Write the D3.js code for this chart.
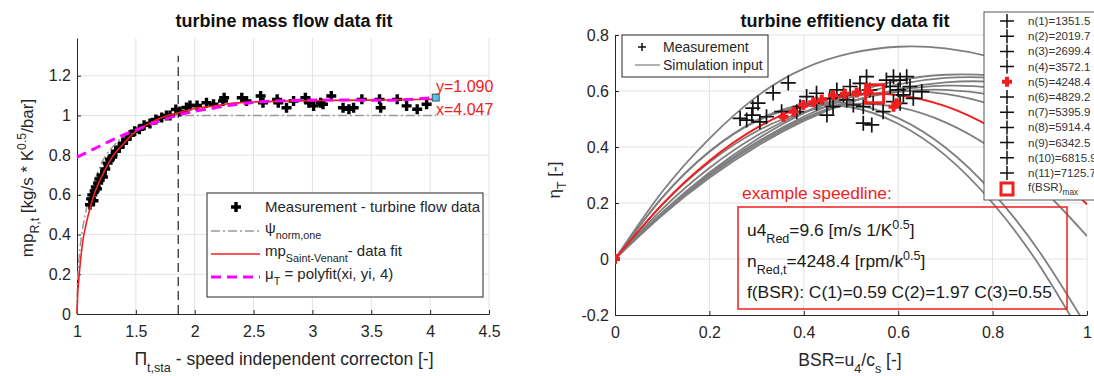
<!DOCTYPE html>
<html>
<head>
<meta charset="utf-8">
<script src="https://cdn.jsdelivr.net/npm/d3@7"></script>
<style>
  body { margin: 0; background: #fff; }
  svg { font-family: "Liberation Sans", Arial, sans-serif; }
</style>
</head>
<body>
<div class="canvas"></div>
<script>
// ---------- left chart data: turbine mass flow ----------
const mfTicksX = [1, 1.5, 2, 2.5, 3, 3.5, 4, 4.5];
const mfTickLabelsX = ['1', '1.5', '2', '2.5', '3', '3.5', '4', '4.5'];
const mfTicksY = [0, 0.2, 0.4, 0.6, 0.8, 1, 1.2];
const mfTickLabelsY = ['0', '0.2', '0.4', '0.6', '0.8', '1', '1.2'];

// measurement - turbine flow data
const measPi = [1.11, 1.12, 1.13, 1.14, 1.15, 1.16, 1.17, 1.18, 1.19, 1.21, 1.22, 1.24, 1.26, 1.28, 1.30, 1.33,
  1.36, 1.39, 1.42, 1.45, 1.49, 1.53, 1.57, 1.62, 1.67, 1.72, 1.76, 1.79, 1.84, 1.875, 1.93, 1.96,
  2.02, 2.10, 2.16, 2.24, 2.25, 2.40, 2.44, 2.56, 2.58, 2.70, 2.71, 2.78, 2.84, 2.94, 2.97, 3.01,
  3.07, 3.09, 3.16, 3.26, 3.31, 3.35, 3.42, 3.57, 3.58, 3.72, 3.80, 3.89, 3.97];
const measMp = [0.55, 0.58, 0.60, 0.57, 0.62, 0.64, 0.63, 0.66, 0.68, 0.70, 0.69, 0.73, 0.76, 0.78, 0.79, 0.82,
  0.84, 0.86, 0.88, 0.90, 0.92, 0.93, 0.95, 0.96, 0.98, 0.99, 1.00, 1.00, 1.03, 1.02, 1.04, 1.05,
  1.05, 1.064, 1.056, 1.073, 1.089, 1.089, 1.073, 1.098, 1.064, 1.081, 1.064, 1.039, 1.073, 1.089, 1.064, 1.048,
  1.064, 1.056, 1.098, 1.039, 1.031, 1.039, 1.081, 1.081, 1.039, 1.081, 1.048, 1.031, 1.056];

// psi norm,one (grey dash-dot)
const psiPi = [1.0, 1.003, 1.01, 1.02, 1.04, 1.07, 1.1, 1.15, 1.2, 1.3, 1.4, 1.5, 1.6, 1.7, 1.8, 1.87, 4.05];
const psiVal = [0, 0.12, 0.22, 0.30, 0.40, 0.50, 0.58, 0.67, 0.75, 0.84, 0.895, 0.935, 0.965, 0.985, 0.997, 1.0, 1.0];

// Saint-Venant fit (red)
const svPi = [1.0, 1.005, 1.015, 1.03, 1.05, 1.08, 1.11, 1.15, 1.2, 1.25, 1.31, 1.4, 1.48, 1.6, 1.7, 1.8, 1.9,
  2.0, 2.13, 2.3, 2.5, 2.8, 3.2, 3.6, 4.047];
const svVal = [0, 0.09, 0.17, 0.27, 0.37, 0.46, 0.53, 0.61, 0.68, 0.74, 0.80, 0.86, 0.91, 0.955, 0.985, 1.005, 1.02,
  1.035, 1.045, 1.06, 1.068, 1.073, 1.076, 1.078, 1.082];

// polyfit (magenta dashed)
const pfPi = [1.0, 1.14, 1.31, 1.56, 1.85, 2.13, 2.41, 2.8, 3.2, 3.6, 4.047];
const pfVal = [0.79, 0.83, 0.88, 0.94, 1.0, 1.035, 1.06, 1.075, 1.078, 1.076, 1.09];

const piCrit = 1.86;
const tipX = 4.047, tipY = 1.090;

// ---------- right chart data: turbine efficiency ----------
const effTicksX = [0, 0.2, 0.4, 0.6, 0.8, 1];
const effTickLabelsX = ['0', '0.2', '0.4', '0.6', '0.8', '1'];
const effTicksY = [-0.2, 0, 0.2, 0.4, 0.6, 0.8];
const effTickLabelsY = ['-0.2', '0', '0.2', '0.4', '0.6', '0.8'];

const speedNames = ['n(1)=1351.5', 'n(2)=2019.7', 'n(3)=2699.4', 'n(4)=3572.1', 'n(5)=4248.4', 'n(6)=4829.2',
  'n(7)=5395.9', 'n(8)=5914.4', 'n(9)=6342.5', 'n(10)=6815.9', 'n(11)=7125.7'];
const exampleSpeed = 4; // n(5)

const bsrSim = [0, 0.1, 0.2, 0.3, 0.4, 0.5, 0.6, 0.7, 0.8, 0.9, 1.0];
const etaSim = [
  [0, 0.219, 0.383, 0.492, 0.544, 0.542, 0.483, 0.370, 0.200, -0.025, -0.305],
  [0, 0.219, 0.384, 0.495, 0.552, 0.554, 0.503, 0.398, 0.238, 0.024, -0.243],
  [0, 0.193, 0.345, 0.456, 0.525, 0.554, 0.542, 0.488, 0.394, 0.259, 0.082],
  [0, 0.178, 0.325, 0.440, 0.524, 0.578, 0.599, 0.590, 0.550, 0.478, 0.375],
  [0, 0.195, 0.351, 0.468, 0.546, 0.585, 0.585, 0.546, 0.468, 0.351, 0.195],
  [0, 0.165, 0.303, 0.416, 0.502, 0.563, 0.597, 0.604, 0.586, 0.542, 0.471],
  [0, 0.160, 0.297, 0.409, 0.497, 0.562, 0.603, 0.619, 0.612, 0.581, 0.526],
  [0, 0.156, 0.290, 0.402, 0.493, 0.561, 0.607, 0.631, 0.633, 0.613, 0.572],
  [0, 0.162, 0.300, 0.416, 0.509, 0.578, 0.624, 0.647, 0.647, 0.624, 0.578],
  [0, 0.166, 0.309, 0.427, 0.521, 0.590, 0.637, 0.658, 0.655, 0.629, 0.579],
  [0, 0.240, 0.430, 0.580, 0.680, 0.735, 0.758, 0.752, 0.720, 0.660, 0.570]
];

// measured points (all speeds, black)
const bsrMeas = [0.265, 0.279, 0.29, 0.292, 0.303, 0.307, 0.321, 0.335, 0.353, 0.367, 0.385, 0.392, 0.406, 0.427,
  0.427, 0.449, 0.455, 0.462, 0.47, 0.484, 0.491, 0.498, 0.505, 0.519, 0.526, 0.526, 0.533, 0.54, 0.547, 0.544,
  0.568, 0.575, 0.583, 0.59, 0.59, 0.6, 0.604, 0.604, 0.611, 0.618, 0.625, 0.632, 0.65];
const etaMeas = [0.502, 0.496, 0.514, 0.539, 0.557, 0.49, 0.508, 0.593, 0.526, 0.629, 0.526, 0.544, 0.58, 0.556,
  0.592, 0.514, 0.574, 0.544, 0.604, 0.586, 0.568, 0.616, 0.55, 0.627, 0.544, 0.485, 0.651, 0.604, 0.556, 0.479,
  0.526, 0.639, 0.616, 0.651, 0.562, 0.604, 0.639, 0.556, 0.586, 0.651, 0.616, 0.574, 0.598];
// measured points of the example speedline (red)
const bsrEx = [0, 0.357, 0.378, 0.399, 0.42, 0.438, 0.462, 0.487, 0.512, 0.537, 0.59, 0.597];
const etaEx = [0, 0.508, 0.526, 0.55, 0.56, 0.57, 0.585, 0.59, 0.595, 0.60, 0.544, 0.556];
const bsrMax = 0.55, etaMax = 0.59;

// ---------- svg ----------
const svg = d3.select('.canvas')
  .append('svg')
    .attr('width', 1094)
    .attr('height', 376);

const axisColor = '#262626';
const gridColor = '#e3e3e3';

// text with sub/superscripts: parts = [[text, 'n'|'sub'|'sup'], ...]
function rich(t, parts, size) {
  let cur = 0;
  parts.forEach(p => {
    const k = p[1] || 'n';
    const target = k === 'sub' ? size * 0.38 : k === 'sup' ? -size * 0.42 : 0;
    t.append('tspan')
      .attr('dy', target - cur)
      .attr('font-size', k === 'n' ? size : size * 0.72)
      .text(p[0]);
    cur = target;
  });
  return t;
}

function plus(g, x, y, s, color, w) {
  g.append('path')
    .attr('d', `M${x - s},${y}H${x + s}M${x},${y - s}V${y + s}`)
    .attr('stroke', color)
    .attr('stroke-width', w)
    .attr('fill', 'none');
}

function styleAxis(g) {
  g.select('.domain').attr('stroke', axisColor);
  g.selectAll('.tick line').attr('stroke', axisColor);
  g.selectAll('.tick text').attr('fill', axisColor).attr('font-size', 16);
}

function drawFrame(x, y, ticksX, labelsX, ticksY, labelsY, gridYEnd) {
  const [x0, x1] = x.range();
  const [y0, y1] = y.range();
  // grid
  svg.append('g').selectAll('line.gx').data(ticksX.slice(1)).enter().append('line')
    .attr('x1', d => x(d)).attr('x2', d => x(d))
    .attr('y1', y0).attr('y2', y1)
    .attr('stroke', gridColor);
  svg.append('g').selectAll('line.gy').data(gridYEnd).enter().append('line')
    .attr('x1', x0).attr('x2', x1)
    .attr('y1', d => y(d)).attr('y2', d => y(d))
    .attr('stroke', gridColor);
  const xAxis = d3.axisBottom(x).tickValues(ticksX)
    .tickFormat((d, i) => labelsX[i]).tickSizeInner(-4).tickSizeOuter(0).tickPadding(12);
  const yAxis = d3.axisLeft(y).tickValues(ticksY)
    .tickFormat((d, i) => labelsY[i]).tickSizeInner(-4).tickSizeOuter(0).tickPadding(6);
  const gx = svg.append('g').attr('transform', `translate(0, ${y0})`).call(xAxis);
  const gy = svg.append('g').attr('transform', `translate(${x0}, 0)`).call(yAxis);
  styleAxis(gx);
  styleAxis(gy);
}

// ================= left chart =================
const xL = d3.scaleLinear().domain([1, 4.5]).range([77, 489]);
const yL = d3.scaleLinear().domain([0, 1.39]).range([314, 38]);

drawFrame(xL, yL, mfTicksX, mfTickLabelsX, mfTicksY, mfTickLabelsY, mfTicksY.slice(1));

const lineL = (xs, ys) => d3.line()
  .x(i => xL(xs[i])).y(i => yL(ys[i]))
  .curve(d3.curveMonotoneX)(d3.range(xs.length));

const left = svg.append('g');
// critical pressure ratio
left.append('line')
  .attr('x1', xL(piCrit)).attr('x2', xL(piCrit))
  .attr('y1', yL(0)).attr('y2', yL(1.3))
  .attr('stroke', '#222').attr('stroke-width', 1.2).attr('stroke-dasharray', '9,5');

left.append('path').attr('d', lineL(psiPi, psiVal))
  .attr('fill', 'none').attr('stroke', '#9a9a9a').attr('stroke-width', 1.5)
  .attr('stroke-dasharray', '9,3,2,3');

measPi.forEach((d, i) => plus(left, xL(d), yL(measMp[i]), 5, '#000', 3.4));

left.append('path').attr('d', lineL(svPi, svVal))
  .attr('fill', 'none').attr('stroke', '#f02020').attr('stroke-width', 1.6);
left.append('path').attr('d', lineL(pfPi, pfVal))
  .attr('fill', 'none').attr('stroke', '#ff00ff').attr('stroke-width', 3)
  .attr('stroke-dasharray', '10,6');

// data tip
left.append('rect')
  .attr('x', xL(tipX) - 3.5).attr('y', yL(tipY) - 3.5)
  .attr('width', 7).attr('height', 7)
  .attr('fill', '#4fc3f7').attr('stroke', '#333').attr('stroke-width', 0.8);
left.append('text').attr('x', 436).attr('y', 92)
  .attr('fill', '#f02020').attr('font-size', 16).text('y=1.090');
left.append('text').attr('x', 436).attr('y', 115)
  .attr('fill', '#f02020').attr('font-size', 16).text('x=4.047');

// titles and labels
svg.append('text').attr('x', 284).attr('y', 27).attr('text-anchor', 'middle')
  .attr('font-size', 18).attr('font-weight', 'bold').attr('fill', '#111')
  .text('turbine mass flow data fit');
rich(svg.append('text').attr('x', 284).attr('y', 365).attr('text-anchor', 'middle').attr('fill', axisColor),
  [['\u03A0'], ['t,sta', 'sub'], [' - speed independent correcton [-]']], 17.5);
rich(svg.append('text').attr('transform', 'translate(33, 178) rotate(-90)').attr('text-anchor', 'middle')
  .attr('fill', axisColor),
  [['mp'], ['R,t', 'sub'], [' [kg/s * K'], ['0.5', 'sup'], ['/bar]']], 17);

// legend
const legL = svg.append('g');
legL.append('rect').attr('x', 207).attr('y', 193).attr('width', 276).attr('height', 104)
  .attr('fill', '#fff').attr('stroke', axisColor).attr('stroke-width', 1);
plus(legL, 236, 207, 5, '#000', 3.4);
legL.append('line').attr('x1', 211).attr('x2', 260).attr('y1', 231).attr('y2', 231)
  .attr('stroke', '#9a9a9a').attr('stroke-width', 1.5).attr('stroke-dasharray', '9,3,2,3');
legL.append('line').attr('x1', 211).attr('x2', 260).attr('y1', 254).attr('y2', 254)
  .attr('stroke', '#f02020').attr('stroke-width', 1.6);
legL.append('line').attr('x1', 211).attr('x2', 260).attr('y1', 277).attr('y2', 277)
  .attr('stroke', '#ff00ff').attr('stroke-width', 3).attr('stroke-dasharray', '10,6');
legL.append('text').attr('x', 265).attr('y', 212).attr('font-size', 15).attr('fill', axisColor)
  .text('Measurement - turbine flow data');
rich(legL.append('text').attr('x', 265).attr('y', 233).attr('fill', axisColor),
  [['\u03C8'], ['norm,one', 'sub']], 15);
rich(legL.append('text').attr('x', 265).attr('y', 256).attr('fill', axisColor),
  [['mp'], ['Saint-Venant', 'sub'], ['- data fit']], 15);
rich(legL.append('text').attr('x', 265).attr('y', 279).attr('fill', axisColor),
  [['\u03BC'], ['T', 'sub'], [' = polyfit(xi, yi, 4)']], 15);

// ================= right chart =================
const xR = d3.scaleLinear().domain([0, 1]).range([615, 1087]);
const yR = d3.scaleLinear().domain([-0.2, 0.8]).range([315, 35]);

drawFrame(xR, yR, effTicksX, effTickLabelsX, effTicksY, effTickLabelsY, effTicksY.slice(1));

svg.append('clipPath').attr('id', 'clipR')
  .append('rect').attr('x', 615).attr('y', 35).attr('width', 472).attr('height', 280);

const right = svg.append('g').attr('clip-path', 'url(#clipR)');
const lineR = ys => d3.line()
  .x(i => xR(bsrSim[i])).y(i => yR(ys[i]))
  .curve(d3.curveNatural)(d3.range(bsrSim.length));

etaSim.forEach((ys, k) => {
  if (k === exampleSpeed) return;
  right.append('path').attr('d', lineR(ys))
    .attr('fill', 'none').attr('stroke', '#7f7f7f').attr('stroke-width', 1.8);
});
right.append('path').attr('d', lineR(etaSim[exampleSpeed]))
  .attr('fill', 'none').attr('stroke', '#f01e1e').attr('stroke-width', 2);

bsrMeas.forEach((d, i) => plus(right, xR(d), yR(etaMeas[i]), 7.5, '#111', 1.7));
bsrEx.forEach((d, i) => plus(right, xR(d), yR(etaEx[i]), 5, '#f01e1e', 4));
right.append('rect')
  .attr('x', xR(bsrMax) - 9).attr('y', yR(etaMax) - 9)
  .attr('width', 18).attr('height', 18)
  .attr('fill', 'none').attr('stroke', '#f01e1e').attr('stroke-width', 3);

// example speedline box
svg.append('text').attr('x', 742).attr('y', 199).attr('fill', '#f01e1e').attr('font-size', 17.4)
  .text('example speedline:');
svg.append('rect').attr('x', 738).attr('y', 207).attr('width', 329).attr('height', 102)
  .attr('fill', 'none').attr('stroke', '#f01e1e').attr('stroke-width', 1.5);
rich(svg.append('text').attr('x', 747).attr('y', 236).attr('fill', '#1a1a1a'),
  [['u4'], ['Red', 'sub'], ['=9.6 [m/s 1/K'], ['0.5', 'sup'], [']']], 17.4);
rich(svg.append('text').attr('x', 747).attr('y', 267).attr('fill', '#1a1a1a'),
  [['n'], ['Red,t', 'sub'], ['=4248.4 [rpm/k'], ['0.5', 'sup'], [']']], 17.4);
svg.append('text').attr('x', 747).attr('y', 298).attr('fill', '#1a1a1a').attr('font-size', 17.4)
  .text('f(BSR): C(1)=0.59 C(2)=1.97 C(3)=0.55');

// titles and labels
svg.append('text').attr('x', 845).attr('y', 27).attr('text-anchor', 'middle')
  .attr('font-size', 18).attr('font-weight', 'bold').attr('fill', '#111')
  .text('turbine effitiency data fit');
rich(svg.append('text').attr('x', 850).attr('y', 366).attr('text-anchor', 'middle').attr('fill', axisColor),
  [['BSR=u'], ['4', 'sub'], ['/c'], ['s', 'sub'], [' [-]']], 17.5);
rich(svg.append('text').attr('transform', 'translate(560, 180) rotate(-90)').attr('text-anchor', 'middle')
  .attr('fill', axisColor),
  [['\u03B7'], ['T', 'sub'], [' [-]']], 17);

// inner legend
const legR1 = svg.append('g');
legR1.append('rect').attr('x', 622).attr('y', 35).attr('width', 146).attr('height', 42)
  .attr('fill', '#fff').attr('stroke', axisColor);
plus(legR1, 642, 47, 4, '#111', 1.5);
legR1.append('line').attr('x1', 635).attr('x2', 660).attr('y1', 65).attr('y2', 65)
  .attr('stroke', '#7f7f7f').attr('stroke-width', 1.2);
legR1.append('text').attr('x', 663).attr('y', 52).attr('font-size', 14).attr('fill', axisColor)
  .text('Measurement');
legR1.append('text').attr('x', 663).attr('y', 70).attr('font-size', 14).attr('fill', axisColor)
  .text('Simulation input');

// outer legend
const legR2 = svg.append('g');
legR2.append('rect').attr('x', 984).attr('y', 12).attr('width', 120).attr('height', 188)
  .attr('fill', '#fff').attr('stroke', '#555');
speedNames.forEach((name, i) => {
  const cy = 21 + i * 15.2;
  if (i === exampleSpeed) plus(legR2, 1007, cy, 5, '#f01e1e', 4);
  else plus(legR2, 1007, cy, 7, '#111', 1.5);
  legR2.append('text').attr('x', 1028).attr('y', cy + 4).attr('font-size', 11.5).attr('fill', '#333')
    .text(name);
});
legR2.append('rect').attr('x', 1001).attr('y', 183).attr('width', 12).attr('height', 12)
  .attr('fill', 'none').attr('stroke', '#f01e1e').attr('stroke-width', 3);
rich(legR2.append('text').attr('x', 1028).attr('y', 191).attr('fill', '#333'),
  [['f(BSR)'], ['max', 'sub']], 11.5);
</script>
</body>
</html>
